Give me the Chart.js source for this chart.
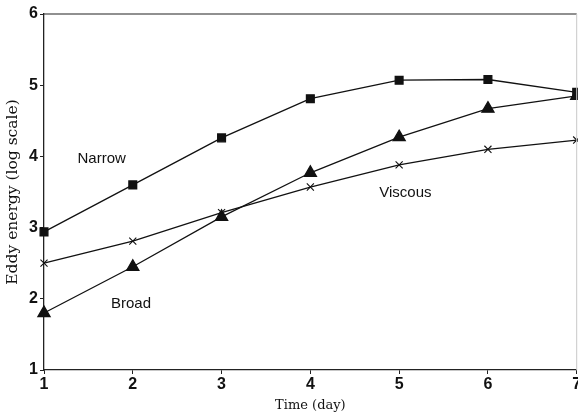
<!DOCTYPE html>
<html>
<head>
<meta charset="utf-8">
<script src="https://cdn.jsdelivr.net/npm/chart.js@4.4.1/dist/chart.umd.min.js"></script>
<style>
  html, body { margin: 0; padding: 0; background: #fff; overflow: hidden; }
  #wrap { width: 578px; height: 415px; overflow: hidden; }
</style>
</head>
<body>
<div id="wrap"><canvas id="chart" width="585" height="415"></canvas></div>
<script>
// Values
const days = [1, 2, 3, 4, 5, 6, 7];
const narrow = [2.94, 3.60, 4.26, 4.81, 5.07, 5.08, 4.90];
const viscous = [2.50, 2.81, 3.21, 3.57, 3.88, 4.10, 4.23];
const broad = [1.80, 2.45, 3.15, 3.77, 4.27, 4.67, 4.85];
const xTicks = [1, 2, 3, 4, 5, 6, 7];
const yTicks = [1, 2, 3, 4, 5, 6];

const toPoints = (vals) => vals.map((v, i) => ({ x: days[i], y: v }));

// Curve labels placed in data space
const curveLabels = [
    { text: 'Narrow', x: 1.65, y: 3.96 },
    { text: 'Broad', x: 1.98, y: 1.93 },
    { text: 'Viscous', x: 5.07, y: 3.49 }
];

const labelPlugin = {
    id: 'curveLabels',
    afterDatasetsDraw(chart) {
        const { ctx, scales: { x, y }, chartArea } = chart;
        ctx.save();
        // frame: top solid, right faint
        ctx.strokeStyle = '#222';
        ctx.lineWidth = 1.2;
        ctx.beginPath();
        ctx.moveTo(chartArea.left, chartArea.top);
        ctx.lineTo(chartArea.right, chartArea.top);
        ctx.stroke();
        ctx.strokeStyle = '#c8c8c8';
        ctx.lineWidth = 1;
        ctx.beginPath();
        ctx.moveTo(chartArea.right, chartArea.top);
        ctx.lineTo(chartArea.right, chartArea.bottom);
        ctx.stroke();

        ctx.fillStyle = '#111';
        ctx.font = '15px "Liberation Sans", Arial, sans-serif';
        ctx.textAlign = 'center';
        ctx.textBaseline = 'middle';
        curveLabels.forEach(l => {
            ctx.fillText(l.text, x.getPixelForValue(l.x), y.getPixelForValue(l.y));
        });
        ctx.restore();
    }
};

const lineStyle = { borderColor: '#111', backgroundColor: '#111', borderWidth: 1.3, tension: 0 };

new Chart(document.getElementById('chart'), {
    type: 'line',
    data: {
        datasets: [
            { label: 'Narrow', data: toPoints(narrow), pointStyle: 'rect', pointRadius: 5.5, ...lineStyle },
            { label: 'Viscous', data: toPoints(viscous), pointStyle: 'crossRot', pointRadius: 5, pointBorderWidth: 1.1, ...lineStyle },
            { label: 'Broad', data: toPoints(broad), pointStyle: 'triangle', pointRadius: 7, ...lineStyle }
        ]
    },
    options: {
        responsive: false,
        animation: false,
        clip: false,
        layout: { padding: { top: 14, right: 1, left: 0, bottom: 0 } },
        plugins: { legend: { display: false }, tooltip: { enabled: false } },
        scales: {
            x: {
                type: 'linear',
                min: 1,
                max: 7,
                afterBuildTicks: (s) => { s.ticks = xTicks.map(v => ({ value: v })); },
                afterFit: (s) => { s.height = 45; },
                border: { color: '#222', width: 1.3 },
                grid: { drawOnChartArea: false, color: '#222', tickLength: 4 },
                ticks: {
                    color: '#111',
                    padding: 1,
                    maxRotation: 0,
                    font: { family: '"Liberation Sans", Arial, sans-serif', size: 16, weight: 'bold' }
                },
                title: {
                    display: true,
                    text: 'Time (day)',
                    color: '#111',
                    padding: { top: 0, bottom: 2 },
                    font: { family: '"DejaVu Serif", serif', size: 13 }
                }
            },
            y: {
                type: 'linear',
                min: 1,
                max: 6,
                afterBuildTicks: (s) => { s.ticks = yTicks.map(v => ({ value: v })); },
                afterFit: (s) => { s.width = 44; },
                border: { color: '#222', width: 1.3 },
                grid: { drawOnChartArea: false, color: '#222', tickLength: 4 },
                ticks: {
                    color: '#111',
                    padding: 2,
                    font: { family: '"Liberation Sans", Arial, sans-serif', size: 16, weight: 'bold' }
                },
                title: {
                    display: true,
                    text: 'Eddy energy (log scale)',
                    color: '#111',
                    padding: { top: 4, bottom: 0 },
                    font: { family: '"DejaVu Serif", serif', size: 15.5 }
                }
            }
        }
    },
    plugins: [labelPlugin]
});
</script>
</body>
</html>
